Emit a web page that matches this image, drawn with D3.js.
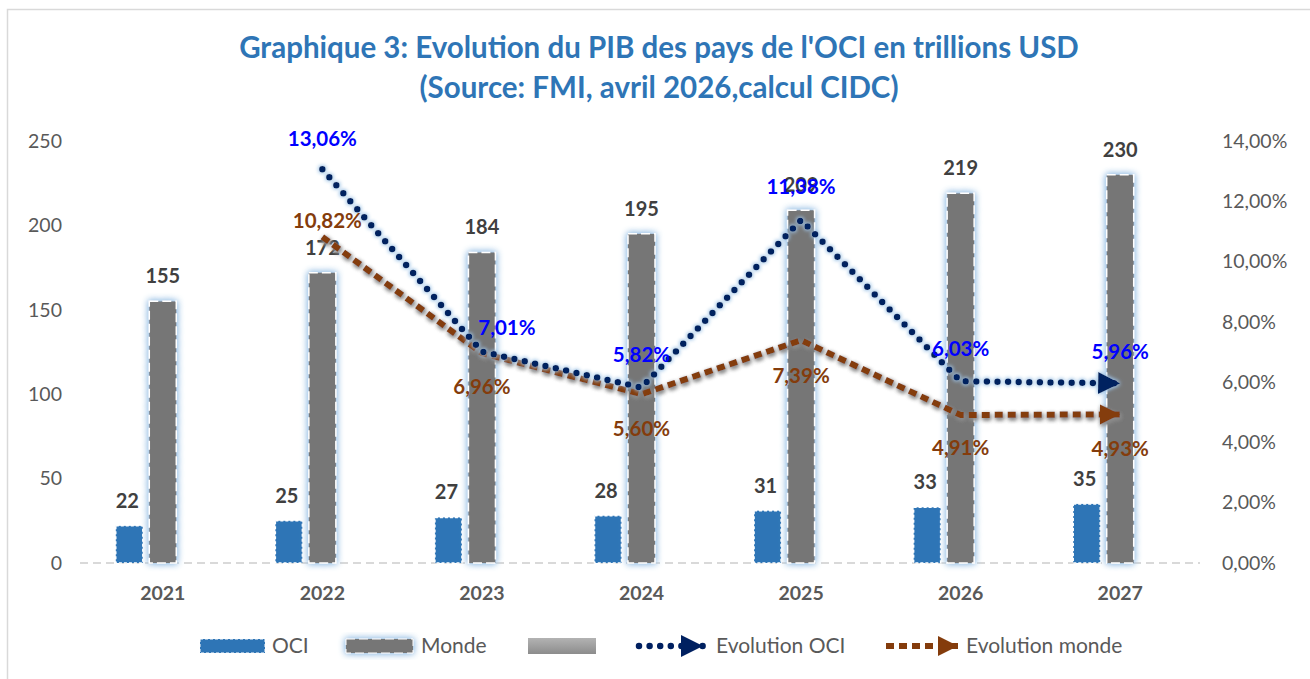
<!DOCTYPE html>
<html>
<head>
<meta charset="utf-8">
<script src="https://cdn.jsdelivr.net/npm/d3@7"></script>
<style>
  body { margin: 0; background: #fff; }
  svg { display: block; font-family: Lato, "Open Sans", sans-serif; }
</style>
</head>
<body>
<div id="chart"></div>
<script>
"use strict";

var years = ["2021", "2022", "2023", "2024", "2025", "2026", "2027"];
var oci = [22, 25, 27, 28, 31, 33, 35];
var monde = [155, 172, 184, 195, 209, 219, 230];
var evoOci = [null, 13.06, 7.01, 5.82, 11.38, 6.03, 5.96];
var evoMonde = [null, 10.82, 6.96, 5.60, 7.39, 4.91, 4.93];
var leftTicks = [0, 50, 100, 150, 200, 250];
var rightTicks = [0, 2, 4, 6, 8, 10, 12, 14];

var W = 1310, H = 679;
var chart = {left: 83, right: 1200, top: 141, bottom: 563};

var svg = d3.select("#chart").append("svg")
  .attr("width", W).attr("height", H);

var defs = svg.append("defs");

function glow(id, color, dev, dx, dy) {
  var f = defs.append("filter").attr("id", id)
    .attr("x", "-50%").attr("y", "-50%").attr("width", "200%").attr("height", "200%");
  f.append("feGaussianBlur").attr("in", "SourceAlpha").attr("stdDeviation", dev).attr("result", "b");
  f.append("feOffset").attr("in", "b").attr("dx", dx).attr("dy", dy).attr("result", "o");
  f.append("feFlood").attr("flood-color", color);
  f.append("feComposite").attr("in2", "o").attr("operator", "in").attr("result", "g");
  var m = f.append("feMerge");
  m.append("feMergeNode").attr("in", "g");
  m.append("feMergeNode").attr("in", "g");
  m.append("feMergeNode").attr("in", "SourceGraphic");
}
glow("barGlow", "#9DC3E6", 3.5, 0, 0);
glow("lineGlow", "#9DC3E6", 2.2, 0, 0);
glow("lineShadow", "#8c8c8c", 2, 1, 2);

var grad = defs.append("linearGradient").attr("id", "greyGrad")
  .attr("x1", 0).attr("y1", 0).attr("x2", 0).attr("y2", 1);
grad.append("stop").attr("offset", "0%").attr("stop-color", "#b3b3b3");
grad.append("stop").attr("offset", "100%").attr("stop-color", "#8c8c8c");

function arrow(id, color) {
  defs.append("marker").attr("id", id)
    .attr("viewBox", "0 0 10 10").attr("refX", 10).attr("refY", 5)
    .attr("markerWidth", 3.4).attr("markerHeight", 3.8)
    .attr("markerUnits", "strokeWidth").attr("orient", "auto")
    .append("path").attr("d", "M0,0L10,5L0,10z").attr("fill", color);
}
arrow("arrOci", "#002060");
arrow("arrMonde", "#843C0C");

// chart frame
svg.append("rect").attr("x", 7.5).attr("y", 9.5)
  .attr("width", W + 10).attr("height", H + 10)
  .attr("fill", "none").attr("stroke", "#d9d9d9").attr("stroke-width", 1.5);

// title
svg.append("text").attr("x", 659).attr("y", 58)
  .attr("text-anchor", "middle").attr("font-size", 29.5).attr("font-weight", "bold")
  .attr("fill", "#2E75B6")
  .text("Graphique 3: Evolution du PIB des pays de l'OCI en trillions USD");
svg.append("text").attr("x", 659).attr("y", 98)
  .attr("text-anchor", "middle").attr("font-size", 29.5).attr("font-weight", "bold")
  .attr("fill", "#2E75B6")
  .text("(Source: FMI, avril 2026,calcul CIDC)");

var x = d3.scaleBand().domain(years).range([chart.left, chart.right]);
var y = d3.scaleLinear().domain([0, 250]).range([chart.bottom, chart.top]);
var y2 = d3.scaleLinear().domain([0, 14]).range([chart.bottom, chart.top]);
var barW = 27, barStep = 33.5;
function cx(d) { return x(d) + x.bandwidth() / 2; }

// left axis
var axL = svg.append("g").attr("transform", "translate(62,0)")
  .call(d3.axisLeft(y).tickValues(leftTicks).tickSize(0).tickPadding(0));
axL.select(".domain").remove();
axL.selectAll("text").attr("font-size", 19.5).attr("fill", "#595959")
  .attr("font-family", "Lato, sans-serif");

// right axis
var axR = svg.append("g").attr("transform", "translate(1222,0)")
  .call(d3.axisRight(y2).tickValues(rightTicks).tickSize(0).tickPadding(0)
    .tickFormat(function(d) { return d3.format(".2f")(d).replace(".", ",") + "%"; }));
axR.select(".domain").remove();
axR.selectAll("text").attr("font-size", 19.5).attr("fill", "#595959")
  .attr("font-family", "Lato, sans-serif");

// baseline
svg.append("line").attr("x1", 80).attr("x2", 1200)
  .attr("y1", y(0)).attr("y2", y(0))
  .attr("stroke", "#d9d9d9").attr("stroke-width", 2).attr("stroke-dasharray", "8 5");

// x axis labels
var axB = svg.append("g").attr("transform", "translate(0," + (y(0) + 23) + ")")
  .call(d3.axisBottom(x).tickSize(0).tickPadding(0));
axB.select(".domain").remove();
axB.selectAll("text").attr("font-size", 19.5).attr("font-weight", "bold")
  .attr("fill", "#595959").attr("font-family", "Lato, sans-serif");

// bars
svg.append("g").selectAll("rect").data(years).enter().append("rect")
  .attr("x", function(d) { return cx(d) - barStep - barW / 2; })
  .attr("y", function(d, i) { return y(oci[i]); })
  .attr("width", barW)
  .attr("height", function(d, i) { return y(0) - y(oci[i]); })
  .attr("fill", "#2E75B6").attr("stroke", "#fff").attr("stroke-width", 1.5)
  .attr("stroke-dasharray", "3 2");

svg.append("g").attr("filter", "url(#barGlow)")
  .selectAll("rect").data(years).enter().append("rect")
  .attr("x", function(d) { return cx(d) - barW / 2; })
  .attr("y", function(d, i) { return y(monde[i]); })
  .attr("width", barW)
  .attr("height", function(d, i) { return y(0) - y(monde[i]); })
  .attr("fill", "#767676").attr("stroke", "#fff").attr("stroke-width", 1.5)
  .attr("stroke-dasharray", "9 4");

// bar labels
function barLabels(vals, off) {
  svg.append("g").selectAll("text").data(years).enter().append("text")
    .attr("x", function(d) { return cx(d) + off; })
    .attr("y", function(d, i) { return y(vals[i]) - 18; })
    .attr("text-anchor", "middle").attr("font-size", 20).attr("font-weight", "bold")
    .attr("fill", "#404040")
    .text(function(d, i) { return vals[i]; });
}
barLabels(oci, -barStep - 2);
barLabels(monde, 0);

// lines
function pts(vals) {
  return years.map(function(d, i) { return {x: cx(d), y: y2(vals[i]), v: vals[i]}; })
    .filter(function(p) { return p.v !== null; });
}
var line = d3.line().x(function(p) { return p.x; }).y(function(p) { return p.y; });

svg.append("path").datum(pts(evoMonde)).attr("d", line)
  .attr("fill", "none").attr("stroke", "#843C0C").attr("stroke-width", 6)
  .attr("stroke-dasharray", "8 5").attr("filter", "url(#lineShadow)")
  .attr("marker-end", "url(#arrMonde)");

svg.append("path").datum(pts(evoOci)).attr("d", line)
  .attr("fill", "none").attr("stroke", "#002060").attr("stroke-width", 6.5)
  .attr("stroke-linecap", "round").attr("stroke-dasharray", "0 10.6")
  .attr("filter", "url(#lineGlow)")
  .attr("marker-end", "url(#arrOci)");

// line labels
var fmt = function(v) { return d3.format(".2f")(v).replace(".", ",") + "%"; };
var ociOff = [null, [0, -31], [25, -24], [0, -33], [0, -33], [0, -32], [0, -32]];
var mondeOff = [null, [5, -16], [0, 34], [0, 35], [0, 36], [0, 33], [0, 34]];
function lineLabels(vals, offs, color) {
  svg.append("g").selectAll("text").data(pts(vals)).enter().append("text")
    .attr("x", function(p, i) { return p.x + offs[i + 1][0]; })
    .attr("y", function(p, i) { return p.y + offs[i + 1][1]; })
    .attr("dy", "0.35em")
    .attr("text-anchor", "middle").attr("font-size", 20.5).attr("font-weight", "bold")
    .attr("fill", color)
    .text(function(p) { return fmt(p.v); });
}
lineLabels(evoOci, ociOff, "#0000FF");
lineLabels(evoMonde, mondeOff, "#843C0C");

// legend
var leg = svg.append("g").attr("font-size", 21).attr("fill", "#595959");
var ly = 646;
leg.append("rect").attr("x", 200).attr("y", ly - 7).attr("width", 65).attr("height", 14)
  .attr("fill", "#2E75B6").attr("stroke", "#fff").attr("stroke-dasharray", "3 2");
leg.append("text").attr("x", 272).attr("y", ly).attr("dy", "0.35em").text("OCI");
leg.append("rect").attr("x", 346).attr("y", ly - 7).attr("width", 67).attr("height", 14)
  .attr("fill", "#767676").attr("stroke", "#fff").attr("stroke-dasharray", "9 4")
  .attr("filter", "url(#barGlow)");
leg.append("text").attr("x", 421).attr("y", ly).attr("dy", "0.35em").text("Monde");
leg.append("rect").attr("x", 528).attr("y", ly - 8).attr("width", 68).attr("height", 16)
  .attr("fill", "url(#greyGrad)");
leg.append("line").attr("x1", 639).attr("x2", 703).attr("y1", ly).attr("y2", ly)
  .attr("stroke", "#002060").attr("stroke-width", 6.5).attr("stroke-linecap", "round")
  .attr("stroke-dasharray", "0 10.6").attr("marker-end", "url(#arrOci)");
leg.append("text").attr("x", 716).attr("y", ly).attr("dy", "0.35em").text("Evolution OCI");
leg.append("line").attr("x1", 886).attr("x2", 958).attr("y1", ly).attr("y2", ly)
  .attr("stroke", "#843C0C").attr("stroke-width", 6).attr("stroke-dasharray", "8 5")
  .attr("marker-end", "url(#arrMonde)");
leg.append("text").attr("x", 966).attr("y", ly).attr("dy", "0.35em").text("Evolution monde");
</script>
</body>
</html>
